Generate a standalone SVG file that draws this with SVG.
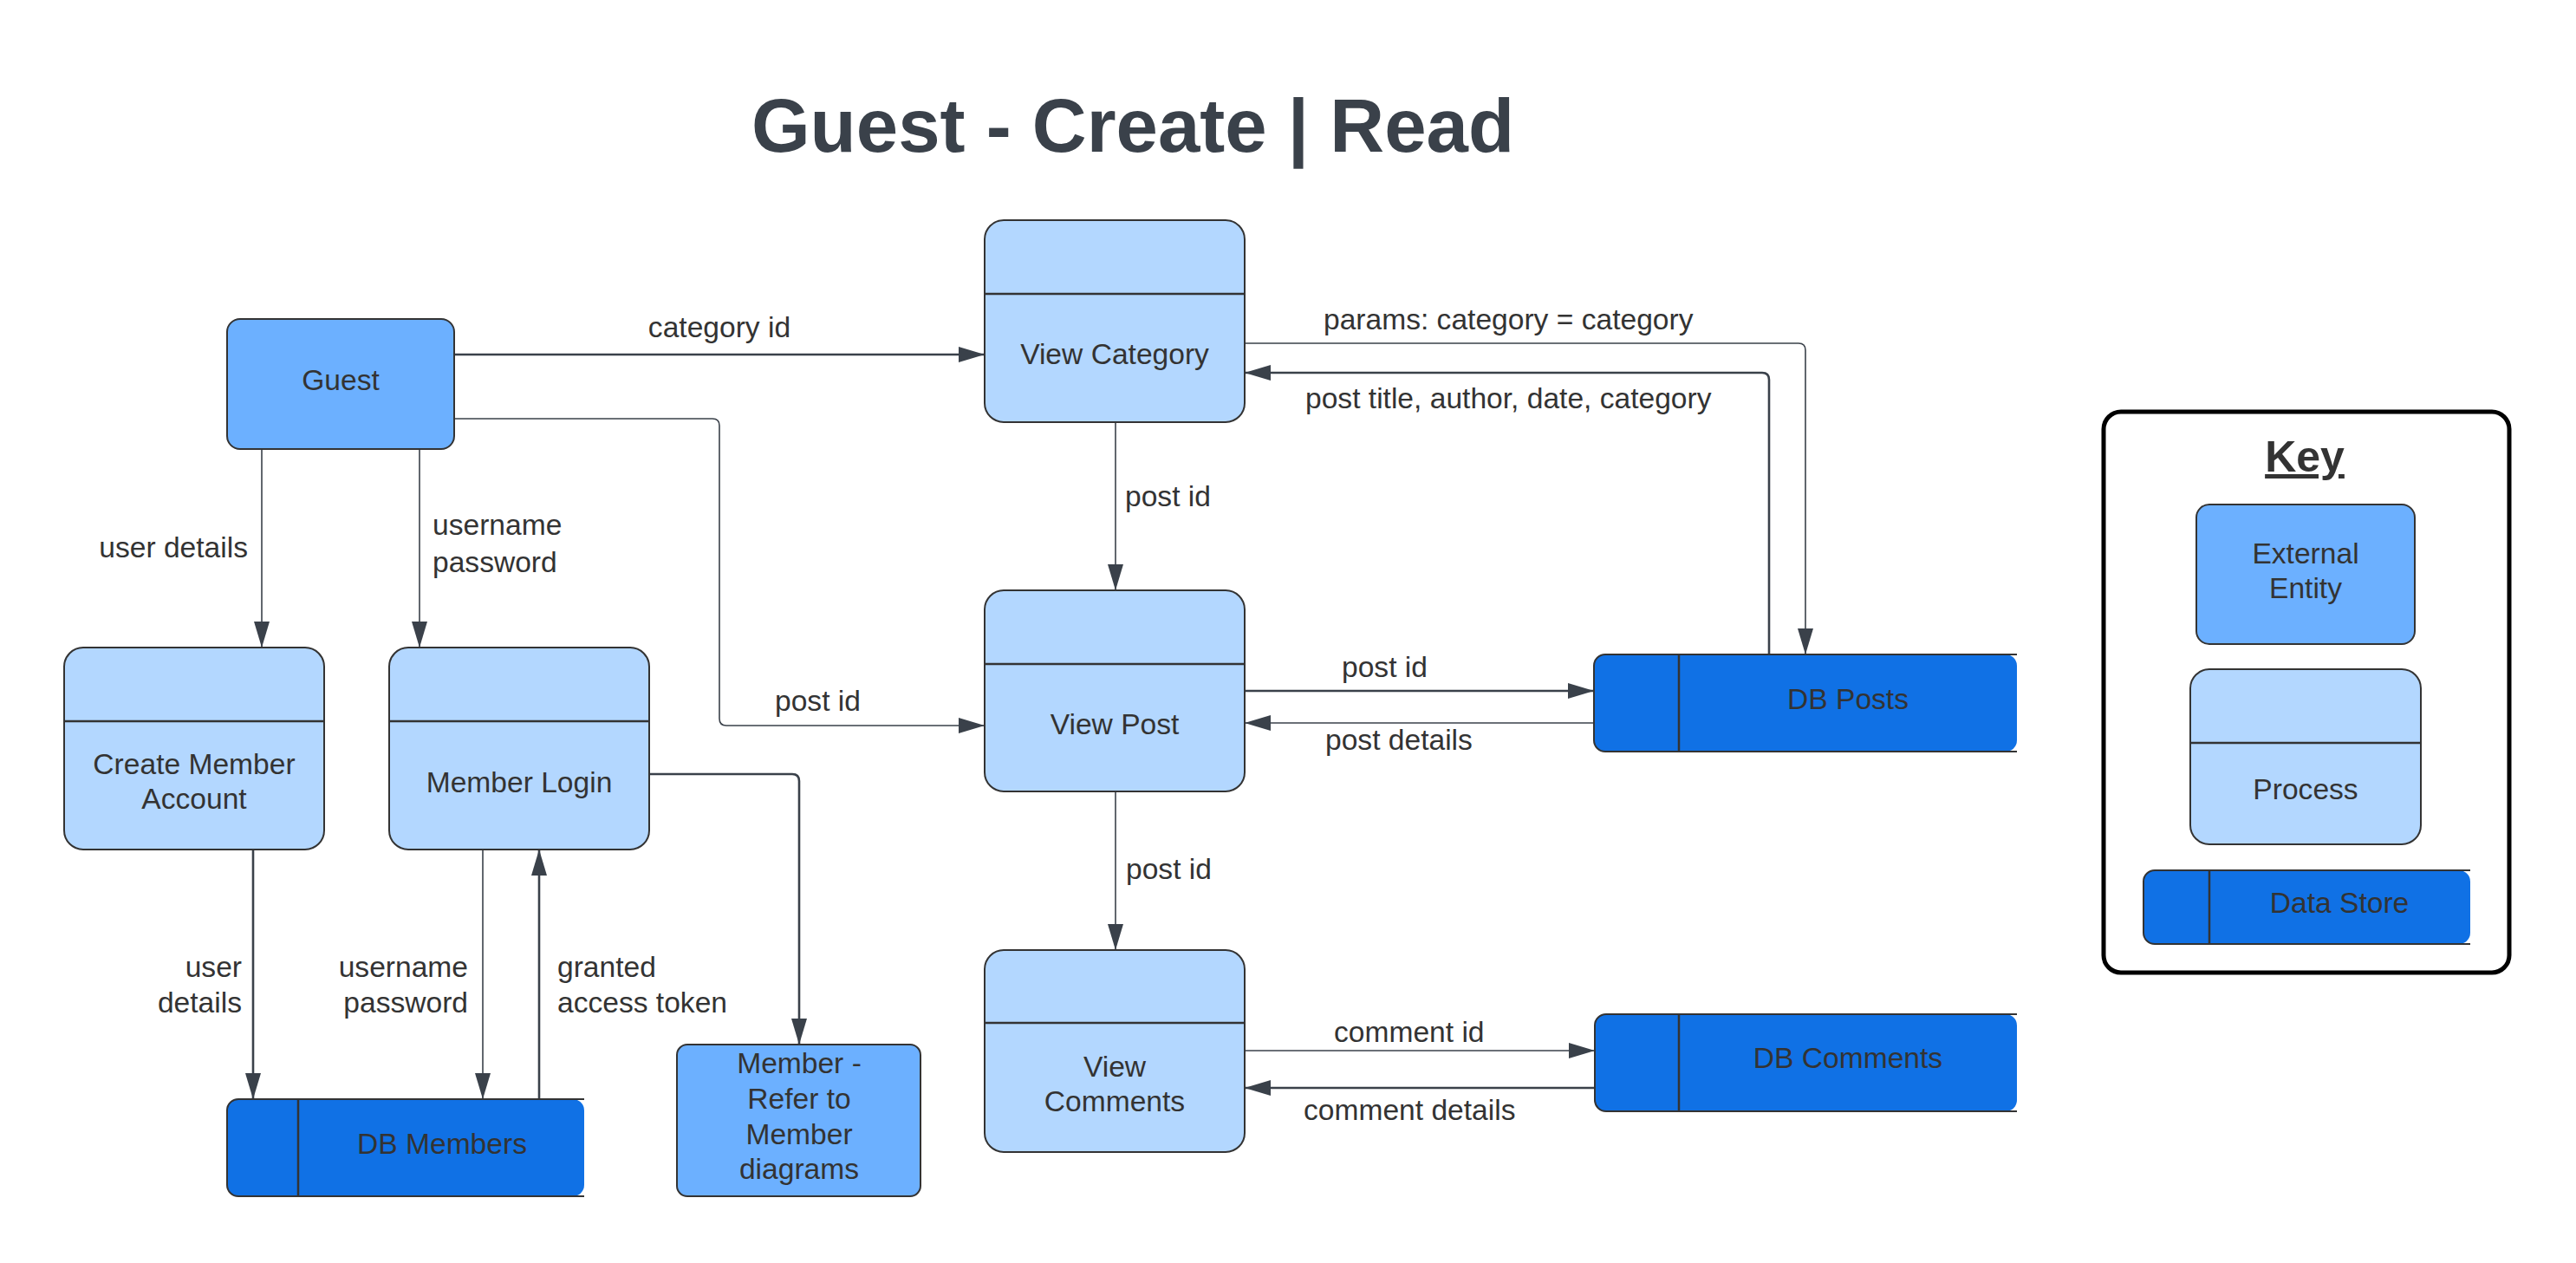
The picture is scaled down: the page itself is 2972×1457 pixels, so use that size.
<svg xmlns="http://www.w3.org/2000/svg" width="2972" height="1457" viewBox="0 0 2972 1457">
<defs>
<marker id="ah" markerUnits="userSpaceOnUse" markerWidth="30" markerHeight="18" refX="30" refY="9" orient="auto">
<path d="M0,0 L30,9 L0,18 Z" fill="#3A414A"/>
</marker>
</defs>
<style>
text{font-family:"Liberation Sans",Arial,sans-serif;fill:#333333;font-size:33.6px}
.ttl{font-size:87px;font-weight:bold;fill:#3A414A}
.m{text-anchor:middle}
.e{text-anchor:end}
.ext{fill:#6CB0FF;stroke:#333333;stroke-width:2}
.proc{fill:#B3D7FF;stroke:#333333;stroke-width:2}
.div{stroke:#333333;stroke-width:2.5;fill:none}
.dsf{fill:#1071E5;stroke:none}
.dss{fill:none;stroke:#333333;stroke-width:2}
.c{fill:none;stroke:#3A414A;stroke-width:1.6;marker-end:url(#ah)}
.ct{fill:none;stroke:#3A414A;stroke-width:2.6;marker-end:url(#ah)}
.key{fill:#FFFFFF;stroke:#000000;stroke-width:5}
</style>
<rect width="2972" height="1457" fill="#FFFFFF"/>
<text class="ttl m" x="1307" y="175">Guest - Create | Read</text>

<g id="connectors">
<path class="ct" d="M524,409 H1136"/>
<path class="c" d="M524,483 H822 Q830,483 830,491 V829 Q830,837 838,837 H1136"/>
<path class="c" d="M302,518 V747"/>
<path class="c" d="M484,518 V747"/>
<path class="ct" d="M292,980 V1268"/>
<path class="c" d="M557,980 V1268"/>
<path class="ct" d="M622,1268 V980"/>
<path class="ct" d="M749,893 H914 Q922,893 922,901 V1205"/>
<path class="c" d="M1287,487 V681"/>
<path class="c" d="M1436,396 H2075 Q2083,396 2083,404 V755"/>
<path class="ct" d="M2041,755 V438 Q2041,430 2033,430 H1436"/>
<path class="ct" d="M1436,797 H1839"/>
<path class="c" d="M1839,834 H1436"/>
<path class="c" d="M1287,913 V1096"/>
<path class="c" d="M1436,1212 H1840"/>
<path class="ct" d="M1840,1255 H1436"/>
<text class="m" x="830" y="389">category id</text>
<text x="894" y="820">post id</text>
<text class="e" x="286" y="643">user details</text>
<text x="499" y="617">username</text>
<text x="499" y="660">password</text>
<text class="e" x="279" y="1127">user</text>
<text class="e" x="279" y="1168">details</text>
<text class="e" x="540" y="1127">username</text>
<text class="e" x="540" y="1168">password</text>
<text x="643" y="1127">granted</text>
<text x="643" y="1168">access token</text>
<text x="1298" y="584">post id</text>
<text x="1527" y="380">params: category = category</text>
<text x="1506" y="471">post title, author, date, category</text>
<text x="1548" y="781">post id</text>
<text x="1529" y="865">post details</text>
<text x="1299" y="1014">post id</text>
<text x="1539" y="1202">comment id</text>
<text x="1504" y="1292">comment details</text>
</g>

<g id="guest">
<rect class="ext" x="262" y="368" width="262" height="150" rx="15"/>
<text class="m" x="393" y="450">Guest</text>
</g>

<g id="view-category">
<rect class="proc" x="1136" y="254" width="300" height="233" rx="22"/>
<line class="div" x1="1136" y1="339" x2="1436" y2="339"/>
<text class="m" x="1286" y="420">View Category</text>
</g>

<g id="view-post">
<rect class="proc" x="1136" y="681" width="300" height="232" rx="22"/>
<line class="div" x1="1136" y1="766" x2="1436" y2="766"/>
<text class="m" x="1286" y="847">View Post</text>
</g>

<g id="view-comments">
<rect class="proc" x="1136" y="1096" width="300" height="233" rx="22"/>
<line class="div" x1="1136" y1="1180" x2="1436" y2="1180"/>
<text class="m" x="1286" y="1242">View</text>
<text class="m" x="1286" y="1282">Comments</text>
</g>

<g id="create-member-account">
<rect class="proc" x="74" y="747" width="300" height="233" rx="22"/>
<line class="div" x1="74" y1="832" x2="374" y2="832"/>
<text class="m" x="224" y="893">Create Member</text>
<text class="m" x="224" y="933">Account</text>
</g>

<g id="member-login">
<rect class="proc" x="449" y="747" width="300" height="233" rx="22"/>
<line class="div" x1="449" y1="832" x2="749" y2="832"/>
<text class="m" x="599" y="914">Member Login</text>
</g>

<g id="member-refer">
<rect class="ext" x="781" y="1205" width="281" height="175" rx="12"/>
<text class="m" x="922" y="1238">Member -</text>
<text class="m" x="922" y="1279">Refer to</text>
<text class="m" x="922" y="1320">Member</text>
<text class="m" x="922" y="1360">diagrams</text>
</g>

<g id="db-members">
<rect class="dsf" x="262" y="1268" width="412" height="112" rx="13"/>
<path class="dss" d="M674,1268 H275 A13,13 0 0 0 262,1281 V1367 A13,13 0 0 0 275,1380 H674"/>
<line class="div" x1="344" y1="1268" x2="344" y2="1380"/>
<text class="m" x="510" y="1331">DB Members</text>
</g>

<g id="db-posts">
<rect class="dsf" x="1839" y="755" width="488" height="112" rx="13"/>
<path class="dss" d="M2327,755 H1852 A13,13 0 0 0 1839,768 V854 A13,13 0 0 0 1852,867 H2327"/>
<line class="div" x1="1937" y1="755" x2="1937" y2="867"/>
<text class="m" x="2132" y="818">DB Posts</text>
</g>

<g id="db-comments">
<rect class="dsf" x="1840" y="1170" width="487" height="112" rx="13"/>
<path class="dss" d="M2327,1170 H1853 A13,13 0 0 0 1840,1183 V1269 A13,13 0 0 0 1853,1282 H2327"/>
<line class="div" x1="1937" y1="1170" x2="1937" y2="1282"/>
<text class="m" x="2132" y="1232">DB Comments</text>
</g>

<g id="key">
<rect class="key" x="2427" y="475" width="468" height="647" rx="20"/>
<text class="m" x="2659" y="544" style="font-size:50px;font-weight:bold;text-decoration:underline">Key</text>
<rect class="ext" x="2534" y="582" width="252" height="161" rx="15"/>
<text class="m" x="2660" y="650">External</text>
<text class="m" x="2660" y="690">Entity</text>
<rect class="proc" x="2527" y="772" width="266" height="202" rx="22"/>
<line class="div" x1="2527" y1="857" x2="2793" y2="857"/>
<text class="m" x="2660" y="922">Process</text>
<rect class="dsf" x="2473" y="1004" width="377" height="85" rx="13"/>
<path class="dss" d="M2850,1004 H2486 A13,13 0 0 0 2473,1017 V1076 A13,13 0 0 0 2486,1089 H2850"/>
<line class="div" x1="2549" y1="1004" x2="2549" y2="1089"/>
<text class="m" x="2699" y="1053">Data Store</text>
</g>
</svg>
